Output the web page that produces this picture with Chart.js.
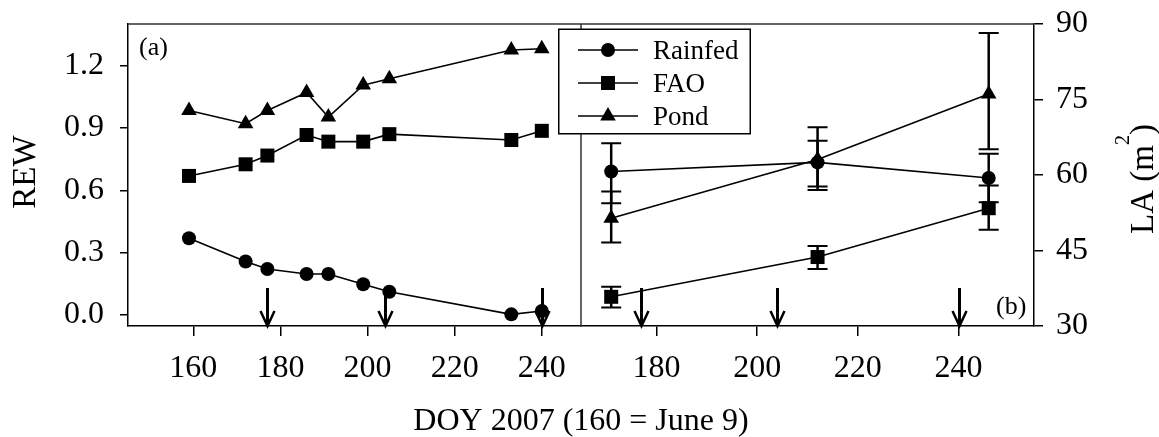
<!DOCTYPE html>
<html><head><meta charset="utf-8">
<script src="https://cdn.jsdelivr.net/npm/chart.js@4/dist/chart.umd.min.js"></script>
<style>html,body{margin:0;padding:0;background:#fff;overflow:hidden}#wrap{position:relative;width:1159px;height:437px}canvas{display:block}</style>
</head><body><div id="wrap"><canvas id="c" width="1159" height="437"></canvas></div>
<script>
// ---- data ----
const seriesNames = ['Rainfed', 'FAO', 'Pond'];
// panel (a): REW
const doyA = [159, 172, 177, 186, 191, 199, 205, 233, 240];
const rewRainfed = [0.369, 0.257, 0.221, 0.197, 0.197, 0.148, 0.112, 0.003, 0.019];
const rewFAO     = [0.669, 0.725, 0.767, 0.866, 0.834, 0.834, 0.870, 0.842, 0.886];
const rewPond    = [0.984, 0.920, 0.984, 1.070, 0.952, 1.106, 1.137, 1.275, 1.281];
// panel (b): LA (m2)
const doyB = [171, 212, 246];
const laRainfed     = [60.7, 62.5, 59.4];
const laRainfedLow  = [54.4, 57.7, 54.6];
const laRainfedHigh = [66.3, 66.8, 64.2];
const laFAO         = [35.8, 43.7, 53.4];
const laFAOLow      = [33.7, 41.3, 49.1];
const laFAOHigh     = [37.8, 45.9, 57.9];
const laPond        = [51.4, 63.1, 76.1];
const laPondLow     = [46.6, 57.0, 65.1];
const laPondHigh    = [56.7, 69.5, 88.2];
// irrigation events (arrows)
const irrigationDOY = [177, 204, 240];
// ticks
const xTicksA = [160, 180, 200, 220, 240];
const xTicksB = [180, 200, 220, 240];
const yTicksA = [0, 0.3, 0.6, 0.9, 1.2];
const yTicksB = [30, 45, 60, 75, 90];
const xTitle = 'DOY 2007 (160 = June 9)';
const yTitleA = 'REW';
const yTitleB = ['LA (m', '2', ')'];
const panelLabels = ['(a)', '(b)'];

// ---- styles ----
const FONT = "'Liberation Serif', 'Times New Roman', serif";
const markers = { Rainfed: ['circle', 7], FAO: ['rect', 9.9], Pond: ['triangle', 9] };

function mk(label, xs, ys, xid, yid, extra) {
  const [ps, r] = markers[label];
  return Object.assign({
    label, data: xs.map((x, i) => ({ x, y: ys[i] })), xAxisID: xid, yAxisID: yid,
    borderColor: '#000', borderWidth: 1.6, backgroundColor: '#000',
    pointStyle: ps, pointRadius: r, pointHoverRadius: r, pointBackgroundColor: '#000',
    pointBorderWidth: 0, tension: 0, fill: false
  }, extra || {});
}

const datasets = [
  mk('Rainfed', doyA, rewRainfed, 'xA', 'yA'),
  mk('FAO', doyA, rewFAO, 'xA', 'yA'),
  mk('Pond', doyA, rewPond, 'xA', 'yA'),
  mk('Rainfed', doyB, laRainfed, 'xB', 'yB', { errLow: laRainfedLow, errHigh: laRainfedHigh }),
  mk('FAO', doyB, laFAO, 'xB', 'yB', { errLow: laFAOLow, errHigh: laFAOHigh }),
  mk('Pond', doyB, laPond, 'xB', 'yB', { errLow: laPondLow, errHigh: laPondHigh })
];

const tickFont = { family: FONT, size: 32 };
function gridOpt(len) { return { drawOnChartArea: false, drawTicks: true, tickLength: len, color: '#000', lineWidth: 1.5 }; }
const borderOpt = { display: true, color: '#000', width: 1.5 };
function fitX(s) { s.height = 111; s.paddingLeft = 0; s.paddingRight = 0; }
function fitY(w) { return s => { s.width = w; s.paddingTop = 0; s.paddingBottom = 0; }; }

const decor = {
  id: 'decor',
  beforeDatasetsDraw(chart) {
    const ctx = chart.ctx;
    const yB = chart.scales.yB, xB = chart.scales.xB;
    ctx.save();
    ctx.strokeStyle = '#000';
    chart.data.datasets.forEach(ds => {
      if (!ds.errLow) return;
      ds.data.forEach((p, i) => {
        const x = xB.getPixelForValue(p.x);
        const y1 = yB.getPixelForValue(ds.errHigh[i]);
        const y2 = yB.getPixelForValue(ds.errLow[i]);
        ctx.lineWidth = 2.5;
        ctx.beginPath(); ctx.moveTo(x, y1); ctx.lineTo(x, y2); ctx.stroke();
        ctx.lineWidth = 2;
        ctx.beginPath();
        ctx.moveTo(x - 10, y1); ctx.lineTo(x + 10, y1);
        ctx.moveTo(x - 10, y2); ctx.lineTo(x + 10, y2);
        ctx.stroke();
      });
    });
    ctx.restore();
  },
  afterDraw(chart) {
    const ctx = chart.ctx;
    const ca = chart.chartArea;
    const xA = chart.scales.xA, xB = chart.scales.xB;
    ctx.save();
    // frame: top line and divider
    ctx.strokeStyle = '#333';
    ctx.lineWidth = 1.5;
    ctx.beginPath();
    ctx.moveTo(ca.left, ca.top); ctx.lineTo(ca.right, ca.top);
    ctx.moveTo(xB.left, ca.top); ctx.lineTo(xB.left, ca.bottom);
    ctx.stroke();
    // arrows
    ctx.strokeStyle = '#000';
    [xA, xB].forEach(sc => {
      irrigationDOY.forEach(d => {
        const x = Math.round(sc.getPixelForValue(d)) + 0.5;
        const yb = ca.bottom;
        ctx.lineWidth = 3;
        ctx.beginPath(); ctx.moveTo(x, yb - 38); ctx.lineTo(x, yb - 2); ctx.stroke();
        ctx.lineWidth = 2.5;
        ctx.lineJoin = 'miter';
        ctx.beginPath(); ctx.moveTo(x - 7, yb - 15); ctx.lineTo(x, yb); ctx.lineTo(x + 7, yb - 15); ctx.stroke();
      });
    });
    // legend
    ctx.fillStyle = '#fff';
    ctx.fillRect(559, 29, 191, 104);
    ctx.strokeStyle = '#000';
    ctx.lineWidth = 1.5;
    ctx.strokeRect(558.75, 29.25, 191.5, 104.5);
    const rows = [50, 83, 116];
    ctx.font = '27px ' + FONT;
    ctx.textAlign = 'left';
    ctx.textBaseline = 'alphabetic';
    seriesNames.forEach((name, i) => {
      const y = rows[i];
      ctx.lineWidth = 1.6;
      ctx.beginPath(); ctx.moveTo(578, y); ctx.lineTo(638, y); ctx.stroke();
      const [ps, r] = markers[name];
      ctx.fillStyle = '#000';
      Chart.helpers.drawPoint(ctx, { pointStyle: ps, radius: r, borderWidth: 0, rotation: 0 }, 608, y);
      ctx.fillText(name, 653, y + 9);
    });
    // panel labels
    ctx.font = '26px ' + FONT;
    ctx.fillText(panelLabels[0], 139, 55);
    ctx.fillText(panelLabels[1], 996, 313.5);
    // axis titles
    ctx.font = '32px ' + FONT;
    ctx.textAlign = 'center';
    ctx.fillText(xTitle, 581, 430);
    ctx.save();
    ctx.translate(35, 172);
    ctx.rotate(-Math.PI / 2);
    ctx.font = '33px ' + FONT;
    ctx.fillText(yTitleA, 0, 0);
    ctx.restore();
    ctx.save();
    ctx.translate(1153, 179);
    ctx.rotate(-Math.PI / 2);
    ctx.textAlign = 'left';
    ctx.font = '33px ' + FONT;
    const w1 = ctx.measureText(yTitleB[0]).width;
    const w3 = ctx.measureText(yTitleB[2]).width;
    ctx.font = '20px ' + FONT;
    const w2 = ctx.measureText(yTitleB[1]).width;
    let x0 = -(w1 + w2 + w3) / 2;
    ctx.font = '33px ' + FONT;
    ctx.fillText(yTitleB[0], x0, 0);
    ctx.font = '20px ' + FONT;
    ctx.fillText(yTitleB[1], x0 + w1, -24);
    ctx.font = '33px ' + FONT;
    ctx.fillText(yTitleB[2], x0 + w1 + w2, 0);
    ctx.restore();
    ctx.restore();
  }
};

new Chart(document.getElementById('c'), {
  type: 'line',
  data: { datasets },
  options: {
    responsive: false,
    animation: false,
    devicePixelRatio: 1,
    layout: { padding: { top: 24, left: 0, right: 0, bottom: 0 } },
    plugins: { legend: { display: false }, tooltip: { enabled: false }, title: { display: false } },
    scales: {
      xA: {
        type: 'linear', position: 'bottom', stack: 'x', stackWeight: 1, min: 145, max: 249,
        afterBuildTicks: s => { s.ticks = xTicksA.map(v => ({ value: v })); },
        afterFit: fitX,
        ticks: { font: tickFont, color: '#000', padding: 13, autoSkip: false, maxRotation: 0, callback: v => String(v) },
        grid: gridOpt(10), border: borderOpt
      },
      xB: {
        type: 'linear', position: 'bottom', stack: 'x', stackWeight: 1, min: 165, max: 255,
        afterBuildTicks: s => { s.ticks = xTicksB.map(v => ({ value: v })); },
        afterFit: fitX,
        ticks: { font: tickFont, color: '#000', padding: 13, autoSkip: false, maxRotation: 0, callback: v => String(v) },
        grid: gridOpt(10), border: borderOpt
      },
      yA: {
        type: 'linear', position: 'left', min: -0.053, max: 1.4,
        afterBuildTicks: s => { s.ticks = yTicksA.map(v => ({ value: v })); },
        afterFit: fitY(128),
        ticks: { font: tickFont, color: '#000', padding: 16, autoSkip: false, callback: v => Number(v).toFixed(1) },
        grid: gridOpt(8), border: borderOpt
      },
      yB: {
        type: 'linear', position: 'right', min: 30, max: 90,
        afterBuildTicks: s => { s.ticks = yTicksB.map(v => ({ value: v })); },
        afterFit: fitY(125),
        ticks: { font: tickFont, color: '#000', padding: 13, autoSkip: false, callback: v => String(v) },
        grid: gridOpt(9), border: borderOpt
      }
    }
  },
  plugins: [decor]
});
</script>
</body></html>
